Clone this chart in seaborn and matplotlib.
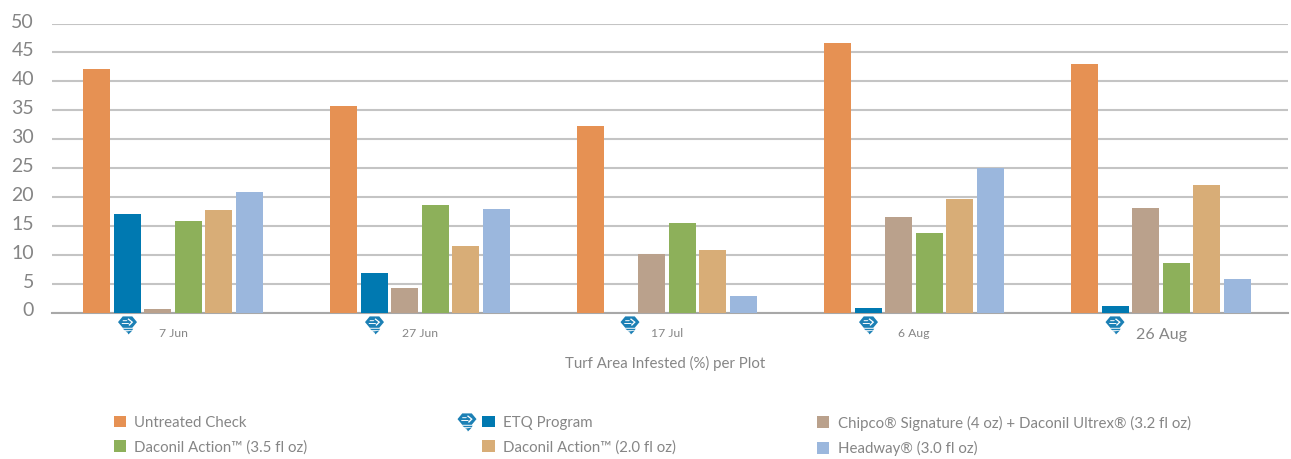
import matplotlib
matplotlib.use("Agg")
import matplotlib.pyplot as plt
import seaborn as sns
import pandas as pd
from matplotlib.patches import Polygon, Rectangle
from matplotlib.transforms import ScaledTranslation

dates = ["7 Jun", "27 Jun", "17 Jul", "6 Aug", "26 Aug"]
treatments = ["Untreated Check", "ETQ Program",
              "Chipco® Signature (4 oz) + Daconil Ultrex® (3.2 fl oz)",
              "Daconil Action™ (3.5 fl oz)", "Daconil Action™ (2.0 fl oz)", "Headway® (3.0 fl oz)"]
untreated = [42.2, 35.8, 32.2, 46.7, 43.0]
etq = [17.0, 6.8, 0.0, 0.7, 1.1]
chipco = [0.6, 4.2, 10.1, 16.5, 18.1]
action35 = [15.8, 18.6, 15.5, 13.7, 8.6]
action20 = [17.7, 11.5, 10.8, 19.6, 22.1]
headway = [20.8, 17.9, 2.9, 25.0, 5.8]
colors = ["#E69153", "#0079B1", "#BAA18C", "#8DB05A", "#D8AD77", "#9BB7DD"]
yticks = [0, 5, 10, 15, 20, 25, 30, 35, 40, 45, 50]
xlabel = "Turf Area Infested (%) per Plot"

series = [untreated, etq, chipco, action35, action20, headway]
df = pd.DataFrame([
    {"date": d, "treatment": t, "value": v}
    for t, vals in zip(treatments, series) for d, v in zip(dates, vals)
])

W, H = 1291, 459
TXT = "#868686"
sns.set_theme(style="white")
plt.rcParams["font.family"] = ["Lato", "DejaVu Sans"]

fig = plt.figure(figsize=(W / 100, H / 100), dpi=100)
ax = fig.add_axes([52 / W, 1 - 312.5 / H, (1288 - 52) / W, 289 / H])
sns.barplot(data=df, x="date", y="value", hue="treatment", hue_order=treatments,
            palette=colors, saturation=1, width=0.741, gap=0.11, legend=False, ax=ax, zorder=3,
            linewidth=0)
ax.set_xlim(-0.49, 4.514)
ax.set_ylim(0, 50)
ax.set_yticks(yticks)
ax.yaxis.grid(True, color="#C4C4C4", lw=1.5, zorder=0)
ax.set_axisbelow(True)
for s in ["top", "right", "left"]:
    ax.spines[s].set_visible(False)
ax.spines["bottom"].set_color("#A8A8A8")
ax.spines["bottom"].set_linewidth(1.5)
ax.tick_params(axis="y", length=0, pad=13, labelsize=14, labelcolor="#858585")
ax.tick_params(axis="x", length=0, pad=11, labelsize=8.8, labelcolor=TXT)
for lab in ax.get_yticklabels():
    lab.set_transform(lab.get_transform() + ScaledTranslation(0, 3 / 100, fig.dpi_scale_trans))
ax.get_xticklabels()[-1].set_fontsize(11.5)
ax.set_ylabel("")
ax.set_xlabel(xlabel, fontsize=10.8, color=TXT, labelpad=10.5, x=0.4964)

# ETQ icon, positioned in pixels
def icon(cx, cy, s=0.95):
    def P(pts, **kw):
        pts = [((cx + x * s) / W, 1 - (cy + y * s) / H) for x, y in pts]
        fig.add_artist(Polygon(pts, closed=True, transform=fig.transFigure, **kw))
    blue = "#1C80B5"
    P([(-5, -8), (5, -8), (10, -2), (5, 4), (-5, 4), (-10, -2)], fc=blue, ec="none", zorder=5)
    P([(-5, -4), (0, -4), (-1, -3), (-5, -3)], fc="white", ec="none", zorder=6)
    P([(-6, -1), (2, -1), (1, 0), (-6, 0)], fc="white", ec="none", zorder=6)
    P([(1, -6), (6, -2), (2, 2), (1, 1), (4, -2), (0, -5)], fc="white", ec="none", zorder=6)
    P([(-5, 5), (6, 5), (5, 6.5), (-3, 6.5)], fc=blue, ec="none", zorder=5)
    P([(-2, 8), (5, 7), (1, 11), (0, 9)], fc=blue, ec="none", zorder=5)

for bar_center in [127.5, 374.5, 630, 868.5, 1115]:
    icon(bar_center, 324)
icon(467, 421)

# Legend: three columns of two rows
handle = lambda c: Rectangle((0, 0), 1, 1, fc=c, ec="none")
columns = [(109, [0, 3]), (477.5, [1, 4]), (812, [2, 5])]
for x, idx in columns:
    fig.legend([handle(colors[i]) for i in idx], [treatments[i] for i in idx],
               loc="upper left", bbox_to_anchor=(x / W, 1 - 411 / H), frameon=False,
               labelcolor=TXT, handlelength=0.85, handleheight=0.85,
               handletextpad=0.55, labelspacing=0.7, borderpad=0.3, borderaxespad=0,
               prop={"size": 10.8})

fig.savefig("out.png", dpi=100, facecolor="white")
